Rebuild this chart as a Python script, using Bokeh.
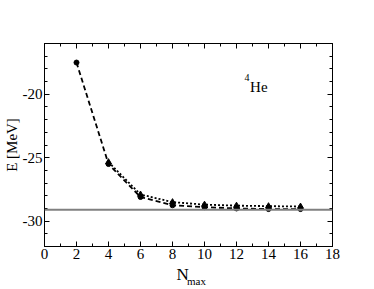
from bokeh.plotting import figure
from bokeh.models import FixedTicker, LinearAxis, Span, Label, Range1d
from bokeh.layouts import column
from bokeh.embed import file_html
from bokeh.resources import INLINE

# data
nmax_a = [2, 4, 6, 8, 10, 12, 14, 16]
energy_a = [-17.5, -25.5, -28.1, -28.75, -28.9, -29.0, -29.05, -29.05]
nmax_b = [4, 6, 8, 10, 12, 14, 16]
energy_b = [-25.35, -27.9, -28.5, -28.7, -28.78, -28.82, -28.85]
exact_energy = -29.1
x_ticks = [0, 2, 4, 6, 8, 10, 12, 14, 16, 18]
x_minor = [1, 3, 5, 7, 9, 11, 13, 15, 17]
y_ticks = [-30, -25, -20]
y_tick_labels = ["-30", "-25", "-20"]
y_minor = [-32, -31, -29, -28, -27, -26, -24, -23, -22, -21, -19, -18, -17, -16]

FONT = "Liberation Serif"

p = figure(width=374, height=266, output_backend="svg", toolbar_location=None,
           x_range=Range1d(0, 18), y_range=Range1d(-32, -16),
           min_border_left=43, min_border_right=42, min_border_top=43, min_border_bottom=20,
           x_axis_location=None, y_axis_location=None)
p.xgrid.visible = False
p.ygrid.visible = False
p.outline_line_color = "black"
p.outline_line_width = 1
p.background_fill_color = "white"
p.border_fill_color = "white"

def style(ax, ticks, minor, labels):
    ax.ticker = FixedTicker(ticks=ticks, minor_ticks=minor)
    ax.axis_line_color = "black"
    ax.major_tick_in = 5
    ax.major_tick_out = 0
    ax.minor_tick_in = 3
    ax.minor_tick_out = 0
    ax.major_tick_line_color = "black"
    ax.minor_tick_line_color = "black"
    ax.major_label_text_font = FONT
    ax.major_label_text_color = "black"
    ax.major_label_text_font_size = "15px"
    ax.major_label_overrides = {t: l for t, l in zip(ticks, labels)}

xb = LinearAxis(); style(xb, x_ticks, x_minor, [str(t) for t in x_ticks])
xb.major_label_standoff = 2
p.add_layout(xb, "below")
xt = LinearAxis(); style(xt, x_ticks, x_minor, ["" for t in x_ticks])
xt.major_label_standoff = 0
p.add_layout(xt, "above")
yl = LinearAxis(); style(yl, y_ticks, y_minor, y_tick_labels)
yl.major_label_standoff = 2
yl.axis_label = "E [MeV]"
yl.axis_label_text_font = FONT
yl.axis_label_text_font_style = "normal"
yl.axis_label_text_font_size = "15px"
yl.axis_label_text_color = "black"
yl.axis_label_standoff = 0
p.add_layout(yl, "left")
yr = LinearAxis(); style(yr, y_ticks, y_minor, ["" for t in y_ticks])
yr.major_label_standoff = 0
p.add_layout(yr, "right")

p.add_layout(Span(location=exact_energy, dimension="width", line_color="#808080", line_width=2))

p.line(nmax_b, energy_b, line_color="black", line_width=1.8, line_dash="2 2")
p.line(nmax_a, energy_a, line_color="black", line_width=1.8, line_dash="5 3")
p.scatter(nmax_b, energy_b, marker="triangle", size=6, color="black")
p.scatter(nmax_a, energy_a, marker="circle", size=5, color="black")

p.add_layout(Label(x=12.85, y=-19.44, text="He", text_font=FONT, text_font_size="15px",
                   text_color="black", text_baseline="alphabetic"))
p.add_layout(Label(x=12.5, y=-18.65, text="4", text_font=FONT, text_font_size="10px",
                   text_color="black", text_baseline="alphabetic"))

# strip below the plot holding the x-axis title (page pixel coordinates)
q = figure(width=374, height=23, output_backend="svg", toolbar_location=None,
           x_range=Range1d(0, 374), y_range=Range1d(289, 266),
           min_border=0, x_axis_location=None, y_axis_location=None)
q.xgrid.visible = False
q.ygrid.visible = False
q.outline_line_color = None
q.border_fill_color = "white"
q.add_layout(Label(x=171.5, y=273.5, text="N", text_font=FONT, text_font_size="17px",
                   text_color="black", text_baseline="alphabetic"))
q.add_layout(Label(x=185, y=280.5, text="max", text_font=FONT, text_font_size="11px",
                   text_color="black", text_baseline="alphabetic"))

open("out.html", "w").write(file_html(column(p, q, spacing=0), INLINE))
